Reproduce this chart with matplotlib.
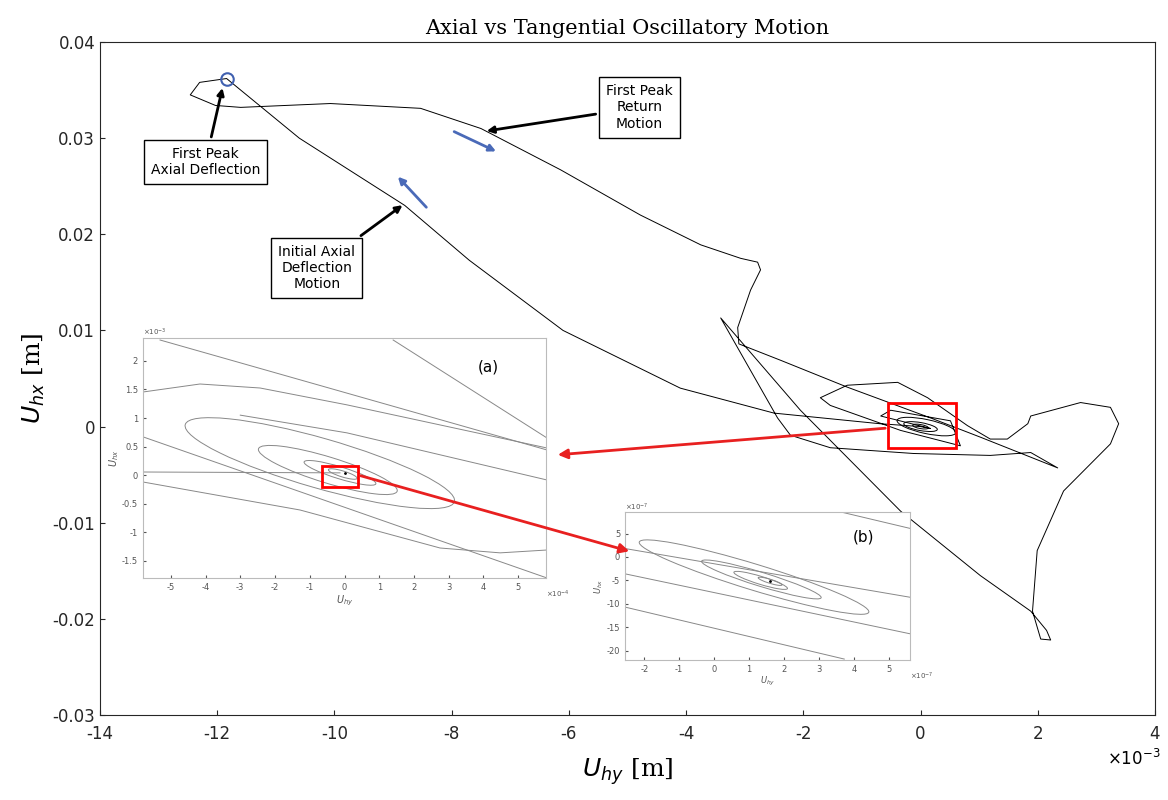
import numpy as np
import matplotlib.pyplot as plt
from matplotlib.patches import Rectangle, Ellipse, FancyArrowPatch
from matplotlib.transforms import IdentityTransform

# main trajectory (x in 1e-3 m, y in m) in drawing order
path_x = [0, -0.7, -2.5, -4.1, -6.1, -7.7, -8.8, -10.6, -11.5, -11.84, -12.3, -12.46, -12.03,
          -11.6, -10.07, -8.53, -7.5, -6.14, -4.78, -3.75, -3.07, -2.78, -2.73, -2.9, -3.12,
          -3.1, -2.39, -1.25, 0.17, 1.02, 2.34, 1.88, 1.19, -0.12, -1.54, -2.22, -2.44, -3.41,
          -2.05, -0.34, 1.02, 1.88, 2.15, 2.22, 2.05, 1.91, 1.99, 2.44, 3.24, 3.38, 3.24, 2.73, 1.88,
          1.83, 1.48, 1.19, 0.8, 0.12, -0.39, -1.25, -1.71, -1.54, -0.34, 0.68, 0.51, -0.51,
          -0.68, 0.17, 0]
path_y = [0, 0.0003, 0.0014, 0.004, 0.010, 0.0173, 0.023, 0.030, 0.0345, 0.0362, 0.0358,
          0.0345, 0.0334, 0.0332, 0.0336, 0.0331, 0.031, 0.0267, 0.022, 0.0189, 0.0175,
          0.0171, 0.0163, 0.0142, 0.0103, 0.0086, 0.0069, 0.0041, 0.0009, -0.0011, -0.0043,
          -0.0027, -0.003, -0.0028, -0.0022, -0.0009, 0.0009, 0.0113, 0.0017, -0.0088, -0.0155,
          -0.0192, -0.0212, -0.0222, -0.0221, -0.0192, -0.0129, -0.0067, -0.0018, 0.0003, 0.002,
          0.0025, 0.0011, 0.0003, -0.0013, -0.0013, 0.0001, 0.003, 0.0046, 0.0043, 0.003, 0.0022,
          -0.0004, -0.002, 0.0006, 0.0017, 0.0011, -0.0002, 0]

# inset (a): open curves (x in 1e-4, y in 1e-3)
a_curves = [([-5.31, 5.83], [2.365, 0.44]),
            ([1.40, 5.83], [2.365, 0.65]),
            ([-5.8, -4.16, -2.43, 0.07, 5.83], [1.455, 1.595, 1.525, 1.23, 0.475]),
            ([-3.0, 0.07, 5.83], [1.05, 0.74, -0.085]),
            ([-5.8, 5.83], [0.67, -1.8]),
            ([-5.8, -0.13], [0.055, 0.04]),
            ([-5.8, -1.28, 2.75, 4.48, 5.83], [-0.12, -0.61, -1.275, -1.36, -1.31])]
# nested orbits: centre (data), length and thickness (px), tilt (deg)
a_orbits = [(-0.71, 0.21, 280, 50, -16), (-0.48, 0.09, 145, 26, -17),
            (-0.13, 0.04, 75, 12, -17), (-0.05, 0.02, 30, 6, -17)]
# inset (b): x, y in 1e-7
b_curves = [([3.4, 5.6], [10, 6.1]), ([-2.55, 5.6], [1.8, -8.6]),
            ([-2.55, 5.6], [-3.6, -16.4]), ([-2.55, 3.72], [-10.7, -21.8])]
b_orbits = [(1.14, -4.3, 240, 26, -17), (1.35, -4.8, 125, 14, -17),
            (1.33, -5.0, 56, 8, -17), (1.6, -5.2, 25, 4, -17)]
main_orbits = [(0.1, 0.0, 60, 14, -12), (0.0, 0.0, 34, 8, -10), (0.0, 0.0, 16, 4, -10)]

fig = plt.figure(figsize=(11.68, 8.0), dpi=100)
W, H = 1168, 800
def px(x0, y0, x1, y1):
    return [x0 / W, 1 - y1 / H, (x1 - x0) / W, (y1 - y0) / H]

def orbit(axx, cx, cy, w, h, ang, color):
    c = axx.transData.transform((cx, cy))
    e = Ellipse(c, w, h, angle=ang, transform=IdentityTransform(), fill=False, ec=color, lw=0.7)
    axx.add_patch(e)
    e.set_clip_box(axx.bbox)

ax = fig.add_axes(px(100, 42, 1155, 715))
ax.plot(np.array(path_x) * 1e-3, path_y, color='black', lw=0.7)
ax.set_xlim(-14e-3, 4e-3)
ax.set_ylim(-0.03, 0.04)
ax.set_xticks(np.arange(-14, 5, 2) * 1e-3)
ax.set_xticklabels([str(v) for v in range(-14, 5, 2)])
ax.set_yticks(np.arange(-0.03, 0.041, 0.01))
ax.set_yticklabels(['-0.03', '-0.02', '-0.01', '0', '0.01', '0.02', '0.03', '0.04'])
ax.tick_params(labelsize=12, colors='#262626', direction='in')
ax.tick_params(axis='x', pad=7)
for s in ax.spines.values():
    s.set_color('#262626')
ax.set_title('Axial vs Tangential Oscillatory Motion', fontfamily='DejaVu Serif', fontsize=15)
ax.set_xlabel(r'$U_{hy}$ [m]', fontsize=18, fontfamily='DejaVu Serif', labelpad=10)
ax.set_ylabel(r'$U_{hx}$ [m]', fontsize=18, fontfamily='DejaVu Serif')
ax.text(1.005, -0.075, r'$\times10^{-3}$', transform=ax.transAxes, fontsize=12, ha='right')
for o in main_orbits:
    orbit(ax, o[0] * 1e-3, o[1], o[2], o[3], o[4], 'black')

ax.plot([-11.84e-3], [0.0362], 'o', ms=9, mfc='none', mec='#4060b0', mew=1.5)
ax.add_patch(Rectangle((-0.55e-3, -0.0022), 1.15e-3, 0.0046, fill=False, ec='red', lw=2, zorder=5))

blue = '#4a6ab8'
ax.annotate('', xy=(-7.2e-3, 0.0285), xytext=(-8.0e-3, 0.0308),
            arrowprops=dict(arrowstyle='-|>', color=blue, lw=2))
ax.annotate('', xy=(-8.95e-3, 0.0262), xytext=(-8.4e-3, 0.0226),
            arrowprops=dict(arrowstyle='-|>', color=blue, lw=2))
bbox = dict(boxstyle='square,pad=0.5', fc='white', ec='black', lw=1)
ax.annotate('First Peak\nAxial Deflection', xy=(-11.9e-3, 0.0355), xytext=(-12.2e-3, 0.0275),
            ha='center', va='center', fontsize=10, bbox=bbox,
            arrowprops=dict(arrowstyle='-|>', color='black', lw=2))
ax.annotate('First Peak\nReturn\nMotion', xy=(-7.45e-3, 0.0307), xytext=(-4.8e-3, 0.0332),
            ha='center', va='center', fontsize=10, bbox=bbox,
            arrowprops=dict(arrowstyle='-|>', color='black', lw=2))
ax.annotate('Initial Axial\nDeflection\nMotion', xy=(-8.8e-3, 0.0232), xytext=(-10.3e-3, 0.0165),
            ha='center', va='center', fontsize=10, bbox=bbox,
            arrowprops=dict(arrowstyle='-|>', color='black', lw=2))

def style_inset(axx):
    axx.tick_params(labelsize=6, direction='in', colors='#555555', length=2)
    for s in axx.spines.values():
        s.set_color('#bbbbbb')

gray = '#888888'
# inset (a)
ia = fig.add_axes(px(143, 338, 546, 578))
ia.set_xlim(-5.8e-4, 5.8e-4)
ia.set_ylim(-1.8e-3, 2.4e-3)
for xs, ys in a_curves:
    ia.plot(np.array(xs) * 1e-4, np.array(ys) * 1e-3, color=gray, lw=0.7)
for o in a_orbits:
    orbit(ia, o[0] * 1e-4, o[1] * 1e-3, o[2], o[3], o[4], gray)
ia.plot([0], [0.04e-3], 'k.', ms=2)
ia.set_xticks(np.arange(-5, 6) * 1e-4)
ia.set_xticklabels([str(v) for v in range(-5, 6)])
ia.set_yticks(np.arange(-1.5, 2.1, 0.5) * 1e-3)
ia.set_yticklabels(['-1.5', '-1', '-0.5', '0', '0.5', '1', '1.5', '2'])
style_inset(ia)
ia.set_xlabel(r'$U_{hy}$', fontsize=7, labelpad=1, color='#555555')
ia.set_ylabel(r'$U_{hx}$', fontsize=7, labelpad=1, color='#555555')
ia.text(0, 1.01, r'$\times10^{-3}$', transform=ia.transAxes, fontsize=5, color='#555555')
ia.text(1.0, -0.08, r'$\times10^{-4}$', transform=ia.transAxes, fontsize=5, color='#555555')
ia.text(0.83, 0.86, '(a)', transform=ia.transAxes, fontsize=11)
ia.add_patch(Rectangle((-0.64e-4, -0.2e-3), 1.04e-4, 0.36e-3, fill=False, ec='red', lw=2, zorder=5))

# inset (b)
ib = fig.add_axes(px(625, 512, 910, 660))
ib.set_xlim(-2.55e-7, 5.6e-7)
ib.set_ylim(-22e-7, 9.6e-7)
for xs, ys in b_curves:
    ib.plot(np.array(xs) * 1e-7, np.array(ys) * 1e-7, color=gray, lw=0.7)
for o in b_orbits:
    orbit(ib, o[0] * 1e-7, o[1] * 1e-7, o[2], o[3], o[4], gray)
ib.plot([1.6e-7], [-5.2e-7], 'k.', ms=2)
ib.set_xticks(np.arange(-2, 6) * 1e-7)
ib.set_xticklabels([str(v) for v in range(-2, 6)])
ib.set_yticks(np.arange(-20, 6, 5) * 1e-7)
ib.set_yticklabels([str(v) for v in range(-20, 6, 5)])
style_inset(ib)
ib.set_xlabel(r'$U_{hy}$', fontsize=6, labelpad=1, color='#555555')
ib.set_ylabel(r'$U_{hx}$', fontsize=6, labelpad=1, color='#555555')
ib.text(0, 1.01, r'$\times10^{-7}$', transform=ib.transAxes, fontsize=5, color='#555555')
ib.text(1.0, -0.13, r'$\times10^{-7}$', transform=ib.transAxes, fontsize=5, color='#555555')
ib.text(0.8, 0.8, '(b)', transform=ib.transAxes, fontsize=11)

# red connecting arrows (figure pixels)
def fp(x, y):
    return (x / W, 1 - y / H)
fig.patches.append(FancyArrowPatch(fp(888, 428), fp(555, 455), transform=fig.transFigure,
                                   arrowstyle='-|>', mutation_scale=14, color='#e82020', lw=2))
fig.patches.append(FancyArrowPatch(fp(358, 475), fp(632, 552), transform=fig.transFigure,
                                   arrowstyle='-|>', mutation_scale=14, color='#e82020', lw=2))

fig.savefig('out.png', dpi=100)
